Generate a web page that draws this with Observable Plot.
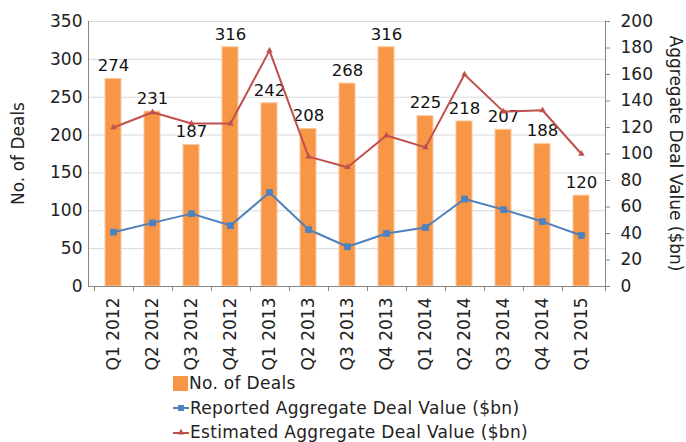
<!DOCTYPE html>
<html><head><meta charset="utf-8">
<script src="https://cdn.jsdelivr.net/npm/d3@7"></script>
<script src="https://cdn.jsdelivr.net/npm/@observablehq/plot@0.6"></script>
<style>
body{margin:0;background:#fff;font-family:"DejaVu Sans",sans-serif;}
#legend{padding-left:173px;font-size:17px;letter-spacing:0.3px;color:#222;margin-top:1px;}
.row{height:24.5px;display:flex;align-items:center;white-space:nowrap;}
.row svg{margin-right:1px;}
</style></head><body>
<div id="chart"></div>
<div id="legend"></div>
<script>
const quarters = ["Q1 2012","Q2 2012","Q3 2012","Q4 2012","Q1 2013","Q2 2013","Q3 2013","Q4 2013","Q1 2014","Q2 2014","Q3 2014","Q4 2014","Q1 2015"];
const deals = [274,231,187,316,242,208,268,316,225,218,207,188,120];
const reported = [41,48,55,46,71,43,30,40,44.5,66,58,49,38.5];
const estimated = [120,131.5,123,123,178,98,90,114,105,160,132,133,100];
const leftTicks = [0,50,100,150,200,250,300,350];
const rightTicks = [0,20,40,60,80,100,120,140,160,180,200];
const seriesNames = ["No. of Deals","Reported Aggregate Deal Value ($bn)","Estimated Aggregate Deal Value ($bn)"];
const colors = ["#F79646","#4F81BD","#C0504D"];
const axisTitles = ["No. of Deals","Aggregate Deal Value ($bn)"];

const ratio = 350/200;
const data = quarters.map((q,i)=>({q, deals:deals[i], rep:reported[i]*ratio, est:estimated[i]*ratio}));

function axisLines(index, scales, values, dim) {
  const g = d3.create("svg:g").attr("stroke","#868686").attr("fill","none");
  const x = scales.x;
  const left = dim.marginLeft, right = dim.width - dim.marginRight;
  const top = dim.marginTop, bottom = dim.height - dim.marginBottom;
  g.append("line").attr("x1",left+0.5).attr("x2",left+0.5).attr("y1",top).attr("y2",bottom);
  g.append("line").attr("x1",right+0.5).attr("x2",right+0.5).attr("y1",top).attr("y2",bottom);
  g.append("line").attr("x1",left).attr("x2",right+5).attr("y1",bottom+0.5).attr("y2",bottom+0.5);
  const step = x.step(), bw = x.bandwidth();
  const bounds = quarters.map(q => x(q) + bw/2 - step/2).concat([right]);
  for (const b of bounds) g.append("line").attr("x1",Math.round(b)+0.5).attr("x2",Math.round(b)+0.5).attr("y1",bottom).attr("y2",bottom+5);
  return g.node();
}

function titles(index, scales, values, dim) {
  const g = d3.create("svg:g").attr("fill","#222").attr("font-size",17).attr("text-anchor","middle");
  const midY = (dim.marginTop + dim.height - dim.marginBottom) / 2;
  g.append("text").attr("transform",`translate(${dim.marginLeft-70},${midY}) rotate(-90)`).attr("dy","0.35em").text(axisTitles[0]);
  g.append("text").attr("transform",`translate(${dim.width-dim.marginRight+71},${midY}) rotate(90)`).attr("dy","0.35em").text(axisTitles[1]);
  return g.node();
}

const chart = Plot.plot({
  width:686, height:370,
  marginTop:21, marginBottom:84, marginLeft:88, marginRight:81,
  style:{fontFamily:"DejaVu Sans", fontSize:"17px", color:"#222", background:"#fff", overflow:"visible"},
  x:{domain:quarters, paddingInner:0.6, paddingOuter:0.3},
  y:{domain:[0,350]},
  marks:[
    Plot.gridY(leftTicks,{stroke:"#d9d9d9", strokeOpacity:1}),
    Plot.barY(data,{x:"q", y:"deals", fill:colors[0], stroke:"#fbc8a0", strokeWidth:1}),
    axisLines,
    titles,
    Plot.axisY(leftTicks,{anchor:"left", tickSize:0, tickPadding:6, label:null, fontSize:17}),
    Plot.axisY(rightTicks.map(v=>v*ratio),{anchor:"right", tickSize:4, tickPadding:11, label:null, stroke:"#868686", tickFormat:d=>Math.round(d/ratio), fontSize:17}),
    Plot.axisX({tickRotate:-90, tickSize:0, tickPadding:11, label:null, fontSize:17}),
    Plot.text(data,{x:"q", y:"deals", text:d=>String(d.deals), dy:-13, fontSize:16.5, fill:"#111"}),
    Plot.line(data,{x:"q", y:"rep", stroke:colors[1], strokeWidth:2}),
    Plot.dot(data,{x:"q", y:"rep", symbol:"square", fill:colors[1], r:3.8}),
    Plot.line(data,{x:"q", y:"est", stroke:colors[2], strokeWidth:2}),
    Plot.dot(data,{x:"q", y:"est", symbol:"triangle", fill:colors[2], r:2.4})
  ]
});
document.getElementById("chart").appendChild(chart);

const legend = document.getElementById("legend");
const swatches = [
  `<svg width="15" height="15"><rect x="0" y="0" width="15" height="15" fill="${colors[0]}"/></svg>`,
  `<svg width="16" height="10"><line x1="0" x2="16" y1="5" y2="5" stroke="${colors[1]}" stroke-width="2"/><rect x="5" y="2" width="6" height="6" fill="${colors[1]}"/></svg>`,
  `<svg width="16" height="10"><line x1="0" x2="16" y1="6" y2="6" stroke="${colors[2]}" stroke-width="2"/><path d="M8,1.5L11,7.5L5,7.5Z" fill="${colors[2]}"/></svg>`
];
seriesNames.forEach((n,i)=>{
  const r = document.createElement("div");
  r.className = "row";
  r.innerHTML = swatches[i] + `<span>${n}</span>`;
  legend.appendChild(r);
});
</script>
</body></html>
